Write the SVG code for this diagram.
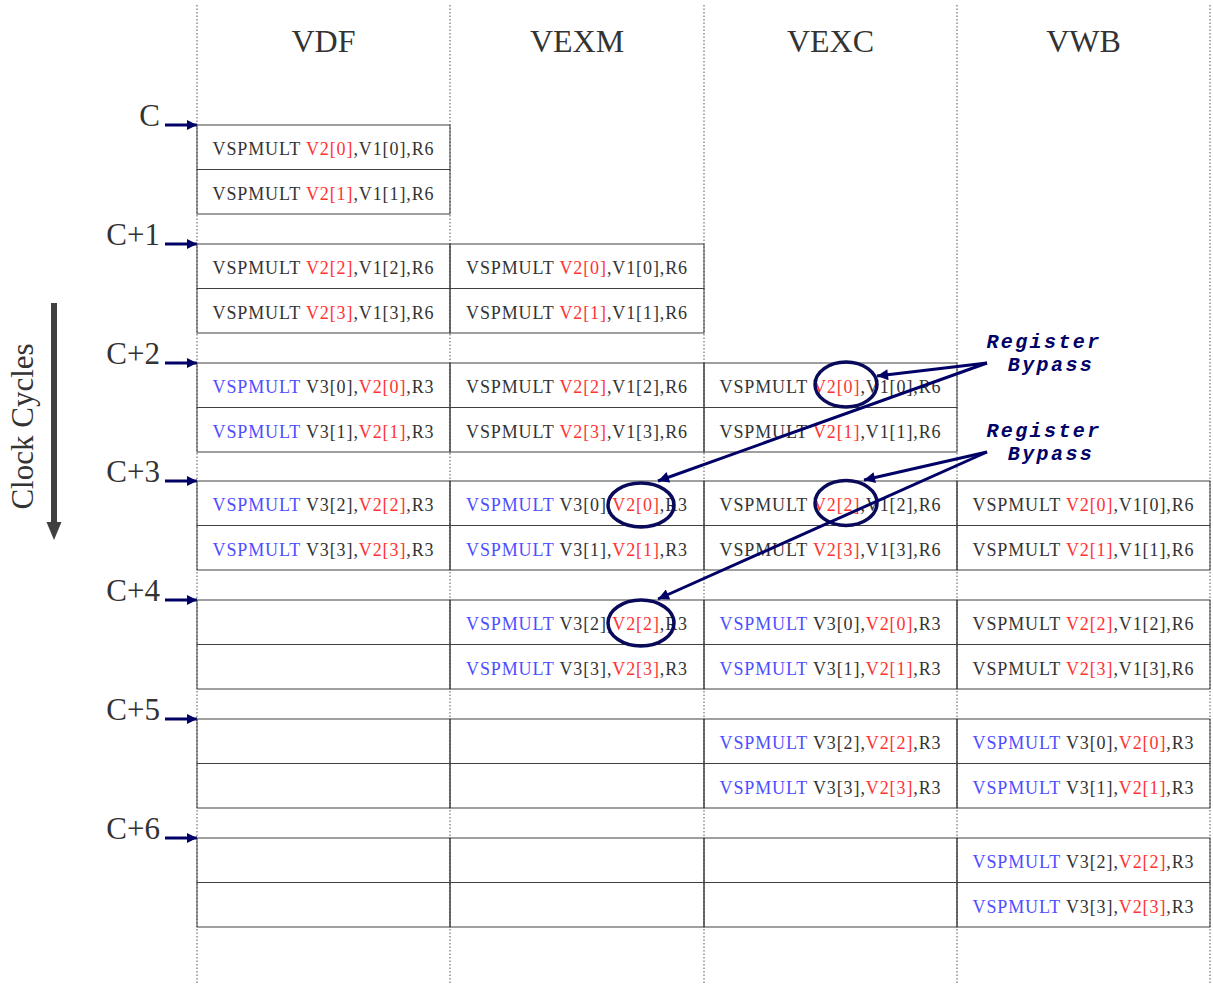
<svg xmlns="http://www.w3.org/2000/svg" width="1213" height="985" viewBox="0 0 1213 985">
<style>
.bg{fill:#ffffff}
.grid{stroke:#555;stroke-width:1;stroke-dasharray:1.5 2;fill:none}
.cell{fill:none;stroke:#404040;stroke-width:1}
.hd{font-family:"Liberation Serif",serif;font-size:32px;fill:#333;text-anchor:middle}
.cy{font-family:"Liberation Serif",serif;font-size:31px;fill:#333;text-anchor:end}
.t{font-family:"Liberation Serif",serif;font-size:18px;fill:#333;text-anchor:middle;letter-spacing:0.9px}
.r{fill:#ff3333}
.b{fill:#4d4dff}
.bp{font-family:"Liberation Mono",monospace;font-size:20px;letter-spacing:2.4px;font-weight:bold;font-style:italic;fill:#000066;text-anchor:middle}
.navy{stroke:#000066;stroke-width:3;fill:none}
.ring{stroke:#0a0a5a;stroke-width:3.5;fill:none}
</style>
<defs>
<marker id="ah" viewBox="0 0 10 10" refX="10" refY="5" markerWidth="15" markerHeight="11" markerUnits="userSpaceOnUse" orient="auto"><path d="M0,0 L10,5 L0,10 Z" fill="#000066"/></marker>
<marker id="ah2" viewBox="0 0 10 10" refX="10" refY="5" markerWidth="13" markerHeight="10" markerUnits="userSpaceOnUse" orient="auto"><path d="M0,0 L10,5 L0,10 Z" fill="#000066"/></marker>
</defs>
<rect class="bg" x="0" y="0" width="1213" height="985"/>
<g id="grid">
<line class="grid" x1="197" y1="5" x2="197" y2="985"/>
<line class="grid" x1="450" y1="5" x2="450" y2="985"/>
<line class="grid" x1="704" y1="5" x2="704" y2="985"/>
<line class="grid" x1="957" y1="5" x2="957" y2="985"/>
<line class="grid" x1="1210" y1="5" x2="1210" y2="985"/>
</g>
<g id="headers">
<text class="hd" x="323.5" y="52">VDF</text>
<text class="hd" x="577" y="52">VEXM</text>
<text class="hd" x="830.5" y="52">VEXC</text>
<text class="hd" x="1083.5" y="52">VWB</text>
</g>
<g id="clock">
<line x1="54" y1="303" x2="54" y2="524" stroke="#404040" stroke-width="6"/>
<path d="M46.5,522 L61.5,522 L54,540 Z" fill="#404040"/>
<text transform="translate(33,426.5) rotate(-90)" font-family="Liberation Serif, serif" font-size="31" fill="#333" text-anchor="middle">Clock Cycles</text>
</g>
<g id="cycle-labels">
<text class="cy" x="160" y="126">C</text>
<text class="cy" x="160" y="245">C+1</text>
<text class="cy" x="160" y="364">C+2</text>
<text class="cy" x="160" y="482">C+3</text>
<text class="cy" x="160" y="601">C+4</text>
<text class="cy" x="160" y="720">C+5</text>
<text class="cy" x="160" y="839">C+6</text>
</g>
<g id="cycle-arrows">
<line class="navy" x1="165" y1="125" x2="197" y2="125" marker-end="url(#ah2)"/>
<line class="navy" x1="165" y1="244" x2="197" y2="244" marker-end="url(#ah2)"/>
<line class="navy" x1="165" y1="363" x2="197" y2="363" marker-end="url(#ah2)"/>
<line class="navy" x1="165" y1="481" x2="197" y2="481" marker-end="url(#ah2)"/>
<line class="navy" x1="165" y1="600" x2="197" y2="600" marker-end="url(#ah2)"/>
<line class="navy" x1="165" y1="719" x2="197" y2="719" marker-end="url(#ah2)"/>
<line class="navy" x1="165" y1="838" x2="197" y2="838" marker-end="url(#ah2)"/>
</g>
<g id="cycle-C">
<rect class="cell" x="197" y="125" width="253" height="44.5"/>
<rect class="cell" x="197" y="169.5" width="253" height="44.5"/>
<text class="t" x="323.5" y="155">VSPMULT <tspan class="r">V2[0]</tspan>,V1[0],R6</text>
<text class="t" x="323.5" y="199.5">VSPMULT <tspan class="r">V2[1]</tspan>,V1[1],R6</text>
</g>
<g id="cycle-C1">
<rect class="cell" x="197" y="244" width="253" height="44.5"/>
<rect class="cell" x="197" y="288.5" width="253" height="44.5"/>
<rect class="cell" x="450" y="244" width="254" height="44.5"/>
<rect class="cell" x="450" y="288.5" width="254" height="44.5"/>
<text class="t" x="323.5" y="274">VSPMULT <tspan class="r">V2[2]</tspan>,V1[2],R6</text>
<text class="t" x="323.5" y="318.5">VSPMULT <tspan class="r">V2[3]</tspan>,V1[3],R6</text>
<text class="t" x="577" y="274">VSPMULT <tspan class="r">V2[0]</tspan>,V1[0],R6</text>
<text class="t" x="577" y="318.5">VSPMULT <tspan class="r">V2[1]</tspan>,V1[1],R6</text>
</g>
<g id="cycle-C2">
<rect class="cell" x="197" y="363" width="253" height="44.5"/>
<rect class="cell" x="197" y="407.5" width="253" height="44.5"/>
<rect class="cell" x="450" y="363" width="254" height="44.5"/>
<rect class="cell" x="450" y="407.5" width="254" height="44.5"/>
<rect class="cell" x="704" y="363" width="253" height="44.5"/>
<rect class="cell" x="704" y="407.5" width="253" height="44.5"/>
<text class="t" x="323.5" y="393"><tspan class="b">VSPMULT</tspan> V3[0],<tspan class="r">V2[0]</tspan>,R3</text>
<text class="t" x="323.5" y="437.5"><tspan class="b">VSPMULT</tspan> V3[1],<tspan class="r">V2[1]</tspan>,R3</text>
<text class="t" x="577" y="393">VSPMULT <tspan class="r">V2[2]</tspan>,V1[2],R6</text>
<text class="t" x="577" y="437.5">VSPMULT <tspan class="r">V2[3]</tspan>,V1[3],R6</text>
<text class="t" x="830.5" y="393">VSPMULT <tspan class="r">V2[0]</tspan>,V1[0],R6</text>
<text class="t" x="830.5" y="437.5">VSPMULT <tspan class="r">V2[1]</tspan>,V1[1],R6</text>
</g>
<g id="cycle-C3">
<rect class="cell" x="197" y="481" width="253" height="44.5"/>
<rect class="cell" x="197" y="525.5" width="253" height="44.5"/>
<rect class="cell" x="450" y="481" width="254" height="44.5"/>
<rect class="cell" x="450" y="525.5" width="254" height="44.5"/>
<rect class="cell" x="704" y="481" width="253" height="44.5"/>
<rect class="cell" x="704" y="525.5" width="253" height="44.5"/>
<rect class="cell" x="957" y="481" width="253" height="44.5"/>
<rect class="cell" x="957" y="525.5" width="253" height="44.5"/>
<text class="t" x="323.5" y="511"><tspan class="b">VSPMULT</tspan> V3[2],<tspan class="r">V2[2]</tspan>,R3</text>
<text class="t" x="323.5" y="555.5"><tspan class="b">VSPMULT</tspan> V3[3],<tspan class="r">V2[3]</tspan>,R3</text>
<text class="t" x="577" y="511"><tspan class="b">VSPMULT</tspan> V3[0],<tspan class="r">V2[0]</tspan>,R3</text>
<text class="t" x="577" y="555.5"><tspan class="b">VSPMULT</tspan> V3[1],<tspan class="r">V2[1]</tspan>,R3</text>
<text class="t" x="830.5" y="511">VSPMULT <tspan class="r">V2[2]</tspan>,V1[2],R6</text>
<text class="t" x="830.5" y="555.5">VSPMULT <tspan class="r">V2[3]</tspan>,V1[3],R6</text>
<text class="t" x="1083.5" y="511">VSPMULT <tspan class="r">V2[0]</tspan>,V1[0],R6</text>
<text class="t" x="1083.5" y="555.5">VSPMULT <tspan class="r">V2[1]</tspan>,V1[1],R6</text>
</g>
<g id="cycle-C4">
<rect class="cell" x="197" y="600" width="253" height="44.5"/>
<rect class="cell" x="197" y="644.5" width="253" height="44.5"/>
<rect class="cell" x="450" y="600" width="254" height="44.5"/>
<rect class="cell" x="450" y="644.5" width="254" height="44.5"/>
<rect class="cell" x="704" y="600" width="253" height="44.5"/>
<rect class="cell" x="704" y="644.5" width="253" height="44.5"/>
<rect class="cell" x="957" y="600" width="253" height="44.5"/>
<rect class="cell" x="957" y="644.5" width="253" height="44.5"/>
<text class="t" x="577" y="630"><tspan class="b">VSPMULT</tspan> V3[2],<tspan class="r">V2[2]</tspan>,R3</text>
<text class="t" x="577" y="674.5"><tspan class="b">VSPMULT</tspan> V3[3],<tspan class="r">V2[3]</tspan>,R3</text>
<text class="t" x="830.5" y="630"><tspan class="b">VSPMULT</tspan> V3[0],<tspan class="r">V2[0]</tspan>,R3</text>
<text class="t" x="830.5" y="674.5"><tspan class="b">VSPMULT</tspan> V3[1],<tspan class="r">V2[1]</tspan>,R3</text>
<text class="t" x="1083.5" y="630">VSPMULT <tspan class="r">V2[2]</tspan>,V1[2],R6</text>
<text class="t" x="1083.5" y="674.5">VSPMULT <tspan class="r">V2[3]</tspan>,V1[3],R6</text>
</g>
<g id="cycle-C5">
<rect class="cell" x="197" y="719" width="253" height="44.5"/>
<rect class="cell" x="197" y="763.5" width="253" height="44.5"/>
<rect class="cell" x="450" y="719" width="254" height="44.5"/>
<rect class="cell" x="450" y="763.5" width="254" height="44.5"/>
<rect class="cell" x="704" y="719" width="253" height="44.5"/>
<rect class="cell" x="704" y="763.5" width="253" height="44.5"/>
<rect class="cell" x="957" y="719" width="253" height="44.5"/>
<rect class="cell" x="957" y="763.5" width="253" height="44.5"/>
<text class="t" x="830.5" y="749"><tspan class="b">VSPMULT</tspan> V3[2],<tspan class="r">V2[2]</tspan>,R3</text>
<text class="t" x="830.5" y="793.5"><tspan class="b">VSPMULT</tspan> V3[3],<tspan class="r">V2[3]</tspan>,R3</text>
<text class="t" x="1083.5" y="749"><tspan class="b">VSPMULT</tspan> V3[0],<tspan class="r">V2[0]</tspan>,R3</text>
<text class="t" x="1083.5" y="793.5"><tspan class="b">VSPMULT</tspan> V3[1],<tspan class="r">V2[1]</tspan>,R3</text>
</g>
<g id="cycle-C6">
<rect class="cell" x="197" y="838" width="253" height="44.5"/>
<rect class="cell" x="197" y="882.5" width="253" height="44.5"/>
<rect class="cell" x="450" y="838" width="254" height="44.5"/>
<rect class="cell" x="450" y="882.5" width="254" height="44.5"/>
<rect class="cell" x="704" y="838" width="253" height="44.5"/>
<rect class="cell" x="704" y="882.5" width="253" height="44.5"/>
<rect class="cell" x="957" y="838" width="253" height="44.5"/>
<rect class="cell" x="957" y="882.5" width="253" height="44.5"/>
<text class="t" x="1083.5" y="868"><tspan class="b">VSPMULT</tspan> V3[2],<tspan class="r">V2[2]</tspan>,R3</text>
<text class="t" x="1083.5" y="912.5"><tspan class="b">VSPMULT</tspan> V3[3],<tspan class="r">V2[3]</tspan>,R3</text>
</g>
<g id="rings">
<ellipse class="ring" cx="846" cy="384.5" rx="31" ry="22.5"/>
<ellipse class="ring" cx="641" cy="505" rx="33" ry="22"/>
<ellipse class="ring" cx="846" cy="503" rx="31" ry="22.5"/>
<ellipse class="ring" cx="641" cy="623" rx="33" ry="23"/>
</g>
<g id="bypass-1">
<text class="bp" x="1044" y="348">Register</text>
<text class="bp" x="1051" y="371">Bypass</text>
</g>
<g id="bypass-2">
<text class="bp" x="1044" y="437">Register</text>
<text class="bp" x="1051" y="460">Bypass</text>
</g>
<g id="connectors">
<line class="navy" x1="987" y1="363" x2="877" y2="376" marker-end="url(#ah)"/>
<line class="navy" x1="987" y1="363" x2="658" y2="481" marker-end="url(#ah)"/>
<line class="navy" x1="987" y1="452" x2="864" y2="480" marker-end="url(#ah)"/>
<line class="navy" x1="987" y1="452" x2="658" y2="599" marker-end="url(#ah)"/>
</g>
</svg>
